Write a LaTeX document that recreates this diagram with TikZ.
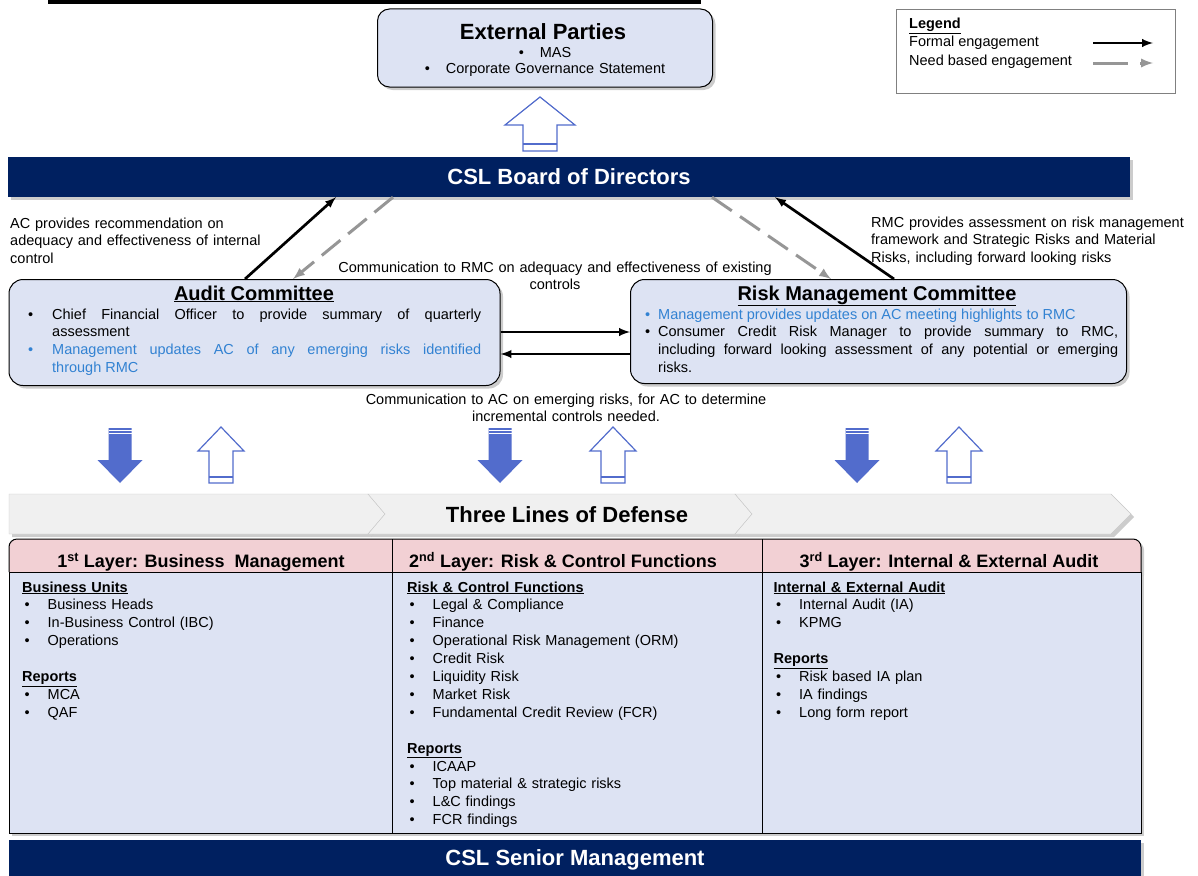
\documentclass[tikz,border=0pt]{standalone}
\usepackage{fontspec}
\setmainfont{Liberation Sans}
\usepackage{xcolor}
\usepackage{tikz}
\usetikzlibrary{arrows}
\usetikzlibrary{shadows}

\definecolor{navy}{RGB}{0,32,96}
\definecolor{boxblue}{RGB}{221,227,243}
\definecolor{hdrpink}{RGB}{242,208,212}
\definecolor{arrblue}{RGB}{82,108,204}
\definecolor{txtblue}{RGB}{50,130,210}
\definecolor{dashgray}{RGB}{150,150,150}
\definecolor{chevgray}{RGB}{240,240,240}
\definecolor{chevline}{RGB}{200,200,200}

\newlength{\bulw}
\newcommand{\citem}[2][black]{\hangindent=\bulw\hangafter=1\noindent{\color{#1}\makebox[\bulw][l]{\textbullet}#2}\par}
\newcommand{\litem}{\hspace*{2.5pt}\makebox[23pt][l]{\textbullet}}

\begin{document}
\begin{tikzpicture}[x=1pt,y=-1pt,>=latex,
  formal/.style={->,line width=2.7pt},
  need/.style={->,line width=3pt,dashgray,dash pattern=on 24pt off 10pt},
  shdw/.style={drop shadow={shadow xshift=3pt,shadow yshift=-3pt,opacity=0.4}},
  cbox/.style={draw,line width=1pt,fill=boxblue,rounded corners=14pt,shdw},
  bar/.style={fill=navy,text=white,font=\fontsize{22}{26}\selectfont\bfseries,shdw},
  body/.style={inner sep=0pt,font=\fontsize{14.5}{17.9}\selectfont},
  ttl/.style={inner sep=0pt,anchor=base,font=\fontsize{20}{24}\selectfont\bfseries},
  lyr/.style={inner sep=0pt,anchor=base,font=\fontsize{18}{22}\selectfont\bfseries},
  lst/.style={body,anchor=base west,text width=340pt,align=left}]
\useasboundingbox (0,0) rectangle (1198,875);
\fill (48,0) rectangle (701,4);

% external parties and legend
\node[cbox,minimum width=335pt,minimum height=78pt,rounded corners=12pt] (EP) at (545,48) {};
\node[ttl,font=\fontsize{22}{26}\selectfont\bfseries] (EPt) at (543,40) {External Parties};
\node[body,anchor=base,text width=300pt,align=center,font=\fontsize{14.5}{16}\selectfont] (EPl) at (545,58) {\textbullet\hspace{16pt}MAS\\ \textbullet\hspace{16pt}Corporate Governance Statement};
\node[draw=gray,line width=0.8pt,minimum width=279pt,minimum height=84pt] (LG) at (1035.5,51) {};
\node[body,anchor=base west] (LGt) at (909,29) {\underline{\textbf{Legend}}};
\node[body,anchor=base west] (LGf) at (909,47) {Formal engagement};
\node[body,anchor=base west] (LGn) at (909,65) {Need based engagement};
\coordinate (f0) at (1093,43);
\coordinate (f1) at (1153,43);
\coordinate (n0) at (1093,63);
\coordinate (n1) at (1153,63);
\draw[formal] (f0) -- (f1);
\draw[need,dash pattern=on 35pt off 12pt] (n0) -- (n1);

% board
\node[bar,minimum width=1122pt,minimum height=40pt] (BOD) at (569,177) {CSL Board of Directors};
\draw[arrblue,fill=white,line width=1.2pt] (540,97) -- (575,125) -- (557,125) -- (557,151) -- (523,151) -- (523,125) -- (505,125) -- cycle;
\draw[arrblue,line width=1.2pt] (523,144) -- (557,144);

\node[body,anchor=base west,text width=290pt,align=left] (ACn) at (10,228) {AC provides recommendation on\\ adequacy and effectiveness of internal\\ control};
\node[body,anchor=base west,text width=330pt,align=left] (RMCn) at (871,227) {RMC provides assessment on risk management\\ framework and Strategic Risks and Material\\ Risks, including forward looking risks};
\node[body,anchor=base,text width=460pt,align=center] (CtoR) at (555,272) {Communication to RMC on adequacy and effectiveness of existing\\ controls};
\node[body,anchor=base,text width=460pt,align=center] (CtoA) at (566,404) {Communication to AC on emerging risks, for AC to determine\\ incremental controls needed.};

% committees
\node[cbox,minimum width=491pt,minimum height=106pt] (AC) at (254.5,332.5) {};
\node[ttl] (ACt) at (254,300) {\underline{Audit Committee}};
\node[body,anchor=base west,text width=453pt,align=justify] (ACl) at (28,319) {\setlength{\bulw}{24pt}\citem{Chief Financial Officer to provide summary of quarterly\linebreak assessment}\citem[txtblue]{Management updates AC of any emerging risks identified\linebreak through RMC}};
\node[cbox,minimum width=496pt,minimum height=104pt] (RMC) at (878.5,331.5) {};
\node[ttl] (RMCt) at (877,300) {\underline{Risk Management Committee}};
\node[body,anchor=base west,text width=473pt,align=justify] (RMCl) at (645,319) {\setlength{\bulw}{13pt}\citem[txtblue]{Management provides updates on AC meeting highlights to RMC}\citem{Consumer Credit Risk Manager to provide summary to RMC,\linebreak including forward looking assessment of any potential or emerging\linebreak risks.}};

\draw[formal] (AC.north -| 245,0) -- (BOD.south -| 336,0);
\draw[need] (BOD.south -| 393,0) -- (AC.north -| 293,0);
\draw[need] (BOD.south -| 712,0) -- (RMC.north -| 831,0);
\draw[formal] (RMC.north -| 894,0) -- (BOD.south -| 775,0);
\draw[formal] (AC.east |- 0,332) -- (RMC.west |- 0,332);
\draw[formal] (RMC.west |- 0,354) -- (AC.east |- 0,354);

% block arrows
\foreach \cx in {120,500,857} {
  \fill[arrblue] (\cx-11.5,428) -- (\cx+11.5,428) -- (\cx+11.5,460) -- (\cx+22.5,460) -- (\cx,483) -- (\cx-22.5,460) -- (\cx-11.5,460) -- cycle;
  \draw[white,line width=0.8pt] (\cx-11.5,430.5) -- (\cx+11.5,430.5) (\cx-11.5,433.5) -- (\cx+11.5,433.5);
}
\foreach \cx in {221,613,959} {
  \draw[arrblue,fill=white,line width=1.2pt] (\cx,427) -- (\cx+23,451) -- (\cx+12,451) -- (\cx+12,483) -- (\cx-12,483) -- (\cx-12,451) -- (\cx-23,451) -- cycle;
  \draw[arrblue,line width=1.2pt] (\cx-12,477) -- (\cx+12,477);
}

% three lines of defense
\filldraw[fill=chevgray,draw=chevline,shdw] (9,494) -- (368,494) -- (385,514) -- (368,534) -- (9,534) -- cycle;
\filldraw[fill=chevgray,draw=chevline,shdw] (368,494) -- (735,494) -- (752,514) -- (735,534) -- (368,534) -- (385,514) -- cycle;
\filldraw[fill=chevgray,draw=chevline,shdw] (735,494) -- (1111,494) -- (1131,514) -- (1111,534) -- (735,534) -- (752,514) -- cycle;
\node[inner sep=0pt,font=\fontsize{22}{26}\selectfont\bfseries] (TLD) at (567,515) {Three Lines of Defense};

% layers
\filldraw[fill=hdrpink,line width=1pt,rounded corners=8pt,shdw] (9,572) -- (9,539) -- (1141,539) -- (1141,572);
\filldraw[fill=boxblue,line width=1pt,shdw] (9,572) rectangle (1141,833);
\draw[line width=1pt] (392,539) -- (392,833) (762,539) -- (762,833);
\node[lyr] (L1) at (201,567.5) {1\textsuperscript{st} Layer: Business\ \ Management};
\node[lyr] (L2) at (563,567.5) {2\textsuperscript{nd} Layer: Risk \& Control Functions};
\node[lyr] (L3) at (949,567.5) {3\textsuperscript{rd} Layer: Internal \& External Audit};
\node[lst] (C1) at (22,592) {\underline{\textbf{Business Units}}\\ \litem Business Heads\\ \litem In-Business Control (IBC)\\ \litem Operations\\[17.9pt] \underline{\textbf{Reports}}\\ \litem MCA\\ \litem QAF};
\node[lst] (C2) at (407,592) {\underline{\textbf{Risk \& Control Functions}}\\ \litem Legal \& Compliance\\ \litem Finance\\ \litem Operational Risk Management (ORM)\\ \litem Credit Risk\\ \litem Liquidity Risk\\ \litem Market Risk\\ \litem Fundamental Credit Review (FCR)\\[17.9pt] \underline{\textbf{Reports}}\\ \litem ICAAP\\ \litem Top material \& strategic risks\\ \litem L\&C findings\\ \litem FCR findings};
\node[lst] (C3) at (773.5,592) {\underline{\textbf{Internal \& External Audit}}\\ \litem Internal Audit (IA)\\ \litem KPMG\\[17.9pt] \underline{\textbf{Reports}}\\ \litem Risk based IA plan\\ \litem IA findings\\ \litem Long form report};
\node[bar,minimum width=1132pt,minimum height=40pt] (SM) at (575,860) {CSL Senior Management};
\end{tikzpicture}
\end{document}
